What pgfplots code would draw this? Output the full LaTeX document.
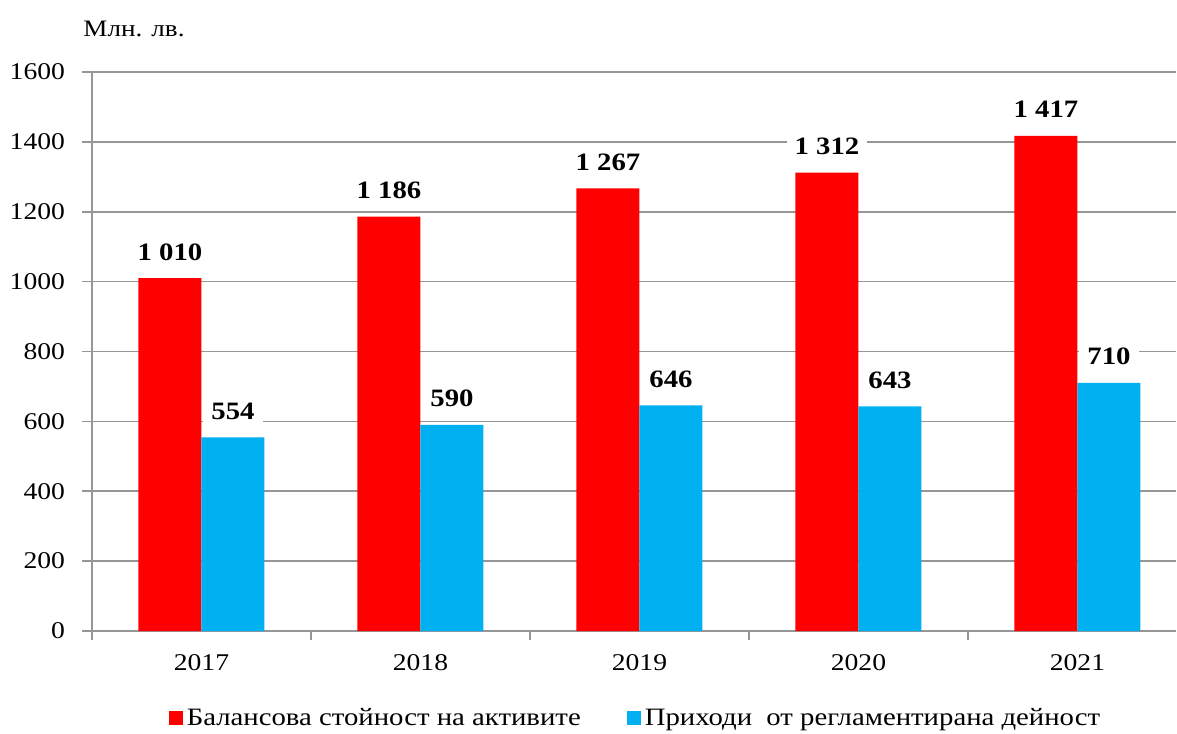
\documentclass[border=0pt]{standalone}
\usepackage{fontspec}
\setmainfont{Liberation Serif}[FakeStretch=1.15]
\usepackage{pgfplots}
\pgfplotsset{compat=1.18}
\definecolor{barred}{RGB}{255,0,0}
\definecolor{barblue}{RGB}{0,176,240}
\definecolor{gridgray}{RGB}{150,150,150}
\begin{document}
\begin{tikzpicture}
\useasboundingbox (-46pt,-51pt) rectangle (542.5pt,315.5pt);
\begin{axis}[
  at={(0,0)}, anchor=south west,
  scale only axis, width=542pt, height=279.5pt,
  xmin=-0.5, xmax=4.45, ymin=0, ymax=1600,
  ybar=0pt, bar width=31.5pt,
  xtick={0,1,2,3,4}, xticklabels={2017,2018,2019,2020,2021},
  minor xtick={-0.5,0.5,1.5,2.5,3.5},
  ytick={0,200,...,1600},
  ymajorgrids, major grid style={gridgray, line width=0.8pt},
  axis lines*=left, axis line style={gridgray, line width=0.8pt, -},
  tick align=outside, major tick length=5pt, minor tick length=4.5pt,
  tick style={gridgray, line width=0.8pt},
  major x tick style={draw=none},
  /pgf/number format/assume math mode=true,
  /pgf/number format/1000 sep={},
  ticklabel style={font=\fontsize{12}{14}\selectfont},
  xticklabel style={yshift=-3pt},
  yticklabel style={xshift=-5pt},
  nodes near coords={\pgfmathprintnumber[1000 sep={\ },assume math mode=true]{\pgfplotspointmeta}},
  nodes near coords style={font=\bfseries\fontsize{12.5}{14}\selectfont, fill=white, inner xsep=4pt, inner ysep=2pt, anchor=base, yshift=9pt},
  legend style={at={(0.5023,-0.1556)}, anchor=center, draw=none, legend columns=2,
    font=\fontsize{12.5}{14}\selectfont,
    nodes={inner xsep=2pt},
    /tikz/every even column/.append style={column sep=21pt}},
]
\addplot[fill=barred, draw=none, legend image code/.code={\fill[barred] (0pt,-3.5pt) rectangle (7pt,3.5pt);}]
  coordinates {(0,1010) (1,1186) (2,1267) (3,1312) (4,1417)};
\addlegendentry{Балансова стойност на активите}
\addplot[fill=barblue, draw=none, legend image code/.code={\fill[barblue] (0pt,-3.5pt) rectangle (7pt,3.5pt);}]
  coordinates {(0,554) (1,590) (2,646) (3,643) (4,710)};
\addlegendentry{Приходи~ от регламентирана дейност}
\end{axis}
\node[font=\fontsize{11.8}{14}\selectfont] at (21pt,301pt) {Млн. лв.};
\end{tikzpicture}
\end{document}
